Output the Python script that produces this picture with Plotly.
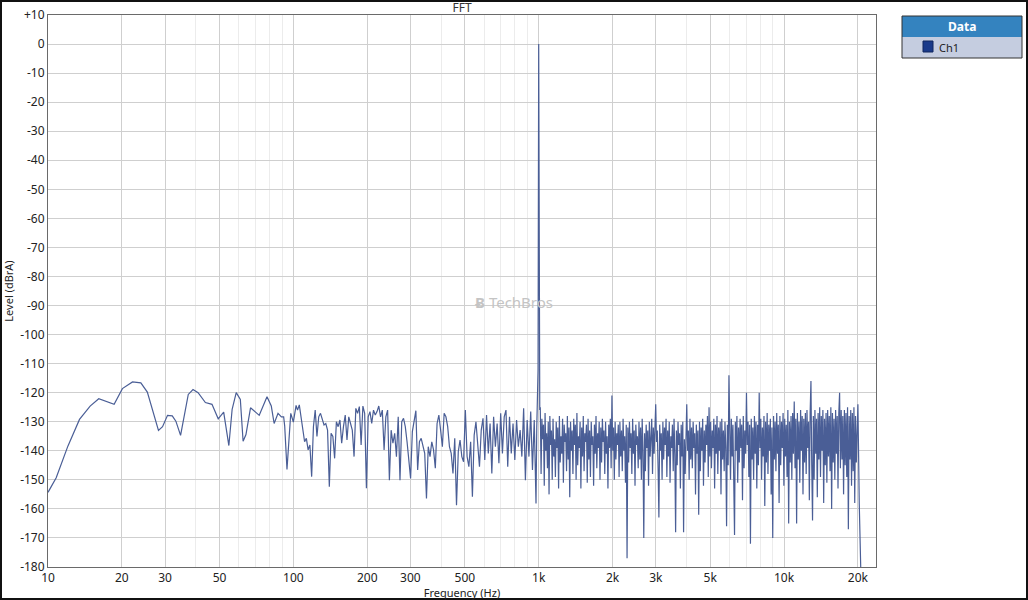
import numpy as np
from plotly import graph_objects as go

# low end of the spectrum, read point by point (Hz, dBrA)
low_freq = [10, 10.8, 12.05, 13.44, 14.85, 16.1, 18.6, 20.1, 22.1, 23.9, 25.4, 28.2, 29.3, 30.7, 32.1,
            33.2, 34.7, 37.3, 39.0, 40.9, 43.8, 46.6, 49.4, 52.0, 54.6, 56.3, 58.5, 60.8, 62.4, 64.1,
            66.9, 69.3, 72.6, 78.1, 81.3, 83.5, 86.6, 89.4, 91.3, 92.2, 94.2, 97.6, 100, 102.6]
low_level = [-154.3, -149.3, -138.4, -129.2, -124.6, -122.1, -124.0, -118.6, -116.3, -116.6, -119.8,
             -133.0, -131.7, -127.8, -128.0, -129.8, -134.7, -120.6, -118.9, -120.0, -123.4, -124.0,
             -129.0, -126.7, -138.2, -125.7, -120.0, -122.3, -136.7, -134.4, -125.2, -126.3, -127.8,
             -121.4, -124.6, -130.6, -127.1, -128.3, -128.3, -131.5, -146.4, -127.1, -130.1, -124.4]

# 104 Hz .. 975 Hz, evenly spaced on the log axis
mid_start, mid_stop = 104, 975
mid_level = [-126.0, -124.2, -128.3, -134.0, -136.9, -135.7, -139.7, -138.0, -148.9, -131.7,
             -126.0, -135.1, -128.3, -127.1, -129.4, -131.1, -130.6, -132.9, -152.4, -134.0,
             -135.1, -142.6, -130.0, -131.7, -129.4, -137.4, -131.7, -127.7, -136.3, -128.3,
             -130.6, -132.9, -142.0, -125.4, -127.1, -124.8, -138.0, -124.6, -127.1, -152.9,
             -128.3, -126.5, -130.6, -126.0, -127.7, -126.5, -124.6, -128.3, -126.0, -139.7,
             -128.3, -126.0, -150.1, -132.9, -137.4, -134.0, -142.0, -128.3, -150.1, -130.0,
             -128.8, -131.7, -136.9, -144.3, -149.5, -133.4, -129.4, -126.2, -146.6, -136.9,
             -135.7, -138.0, -140.9, -156.4, -138.6, -142.0, -136.9, -139.7, -146.0, -130.6,
             -127.7, -132.9, -138.6, -127.1, -128.3, -131.7, -138.6, -140.9, -147.8, -135.7,
             -158.7, -140.3, -136.3, -142.0, -143.8, -126.0, -142.0, -145.5, -136.9, -155.8,
             -134.6, -130.0, -138.6, -145.5, -132.9, -128.8, -143.2, -127.7, -140.9, -130.6,
             -147.8, -128.3, -138.6, -130.6, -144.3, -127.1, -140.9, -128.3, -126.0, -145.5,
             -128.3, -140.9, -130.6, -143.2, -129.4, -138.6, -132.9, -142.0, -125.4, -150.1,
             -129.4, -142.0, -126.5, -146.6, -129.4, -158.1]

# the 1 kHz test tone
tone_freq = [982, 994, 1000, 1006, 1010]
tone_level = [-132, -112, 0, -110, -126]

# 1.015 kHz .. 20 kHz, evenly spaced on the log axis
high_start, high_stop = 1015, 20000
high_level = [
    -125, -148, -129, -136, -131, -152, -127, -140, -134, -146, -130, -155, -128, -138, -133, -150, -129, -142, -136, -149,
    -130, -139, -132, -153, -128, -144, -135, -141, -129, -151, -131, -137, -134, -147, -128, -143, -132, -156, -130, -140,
    -133, -148, -129, -138, -131, -150, -127, -145, -135, -139, -130, -153, -132, -142, -128, -147, -134, -137, -131, -151,
    -129, -143, -133, -149, -130, -138, -135, -152, -131, -141, -128, -146, -134, -139, -130, -150, -132, -144, -129, -137,
    -133, -148, -130, -141, -135, -153, -131, -139, -129, -146, -121, -140, -132, -150, -130, -143, -134, -138, -131, -149,
    -130, -142, -133, -147, -129, -140, -135, -151, -131, -177, -132, -144, -130, -139, -134, -148, -129, -141, -133, -152,
    -131, -138, -135, -146, -130, -143, -132, -150, -129, -140, -170, -134, -147, -131, -139, -133, -152, -130, -142, -135,
    -129, -148, -132, -141, -130, -124, -137, -133, -146, -163, -131, -140, -134, -150, -130, -143, -132, -138, -129, -149,
    -133, -142, -130, -151, -135, -139, -131, -147, -129, -141, -168, -133, -145, -130, -138, -134, -153, -131, -142, -130,
    -168, -136, -148, -131, -124, -140, -133, -150, -129, -143, -132, -146, -130, -139, -134, -155, -131, -141, -133, -162,
    -130, -147, -132, -140, -129, -152, -133, -144, -131, -138, -128, -149, -125, -142, -130, -146, -133, -139, -129, -153,
    -131, -141, -128, -148, -132, -140, -130, -155, -129, -143, -133, -147, -130, -139, -166, -131, -145, -114, -137, -150,
    -129, -142, -131, -148, -169, -130, -140, -128, -151, -132, -144, -129, -139, -131, -157, -128, -146, -133, -141, -120,
    -138, -130, -149, -131, -172, -129, -143, -132, -150, -128, -141, -130, -153, -131, -145, -120, -139, -129, -150, -132,
    -142, -128, -159, -130, -144, -127, -148, -131, -140, -129, -155, -132, -170, -128, -143, -130, -147, -127, -141, -131,
    -158, -128, -145, -130, -139, -127, -152, -129, -142, -131, -149, -126, -165, -130, -144, -128, -150, -127, -141, -123,
    -146, -129, -165, -127, -143, -130, -151, -126, -140, -128, -155, -129, -144, -127, -148, -126, -139, -130, -157, -127,
    -116, -145, -164, -128, -150, -126, -141, -129, -156, -127, -143, -125, -149, -128, -140, -126, -158, -129, -145, -127,
    -151, -126, -142, -128, -147, -125, -160, -127, -144, -129, -150, -126, -141, -128, -153, -127, -120, -146, -126, -143,
    -128, -155, -126, -145, -127, -149, -125, -167, -128, -143, -126, -152, -127, -147, -125, -158, -128, -144, -126, -124,
]

# roll-off past 20 kHz
tail_freq = [20250, 20600]
tail_level = [-158, -185]

x_tickvals = [10, 20, 30, 50, 100, 200, 300, 500, 1000, 2000, 3000, 5000, 10000, 20000]
x_ticktext = ['10', '20', '30', '50', '100', '200', '300', '500', '1k', '2k', '3k', '5k', '10k', '20k']
x_minor = [40, 60, 70, 80, 90, 400, 600, 700, 800, 900, 4000, 6000, 7000, 8000, 9000]
y_tickvals = list(range(10, -181, -10))
y_ticktext = ['+10'] + [str(v) for v in y_tickvals[1:]]

freq = (low_freq + list(np.geomspace(mid_start, mid_stop, len(mid_level))) + tone_freq
        + list(np.geomspace(high_start, high_stop, len(high_level))) + tail_freq)
level = low_level + mid_level + tone_level + high_level + tail_level

W, H = 1028, 600
L, R, T, B = 48, 876, 15, 567


def px(x, y):
    # figure pixel -> paper coords of the plot area
    return (x - L) / (R - L), (B - y) / (B - T)


fig = go.Figure()
fig.add_trace(go.Scatter(x=freq, y=level, mode='lines', name='Ch1',
                         line=dict(color='#4a5e96', width=1.2), showlegend=False))

font = dict(family='Noto Sans, Open Sans, sans-serif', size=12, color='#222222')
fig.update_layout(
    width=W, height=H, margin=dict(l=L, r=W - R, t=T, b=H - B),
    paper_bgcolor='white', plot_bgcolor='white', font=font,
    title=dict(text='FFT', x=(L + R) / 2 / W, xanchor='center', y=1 - 8 / H, yanchor='middle',
               font=dict(size=12, color='#333333')),
)
fig.update_xaxes(type='log', range=[1, np.log10(23700)], tickvals=x_tickvals, ticktext=x_ticktext,
                 showgrid=True, gridcolor='#cfcfcf', gridwidth=1, zeroline=False, automargin=False,
                 minor=dict(tickvals=x_minor, showgrid=True, gridcolor='#ececec', ticks=''),
                 showline=True, linecolor='#6a6a6a', mirror=True, ticks='', ticklen=0,
                 title=dict(text='Frequency (Hz)', font=dict(size=11, color='#222222'), standoff=0))
fig.update_yaxes(range=[-180, 10], tickvals=y_tickvals, ticktext=y_ticktext, automargin=False,
                 showgrid=True, gridcolor='#cfcfcf', zeroline=False,
                 showline=True, linecolor='#6a6a6a', mirror=True, ticks='',
                 title=dict(text='Level (dBrA)', font=dict(size=11, color='#222222'), standoff=4))

# legend box drawn by hand: blue header "Data" and one row for Ch1
x0, y0 = px(902, 16)
x1, y1 = px(1022, 37)
_, y2 = px(0, 58)
fig.add_shape(type='rect', xref='paper', yref='paper', x0=x0, x1=x1, y0=y1, y1=y0,
              fillcolor='#3483bf', line=dict(width=0))
fig.add_shape(type='rect', xref='paper', yref='paper', x0=x0, x1=x1, y0=y2, y1=y1,
              fillcolor='#c5cde0', line=dict(width=0))
fig.add_shape(type='rect', xref='paper', yref='paper', x0=x0, x1=x1, y0=y2, y1=y0,
              line=dict(color='#333333', width=1))
sx0, sy0 = px(923, 41)
sx1, sy1 = px(933, 52)
fig.add_shape(type='rect', xref='paper', yref='paper', x0=sx0, x1=sx1, y0=sy1, y1=sy0,
              fillcolor='#1a3a8a', line=dict(color='#10265e', width=1))
hx, hy = px(962, 27)
fig.add_annotation(xref='paper', yref='paper', x=hx, y=hy, text='<b>Data</b>', showarrow=False,
                   xanchor='center', yanchor='middle', font=dict(size=12, color='white'))
cx, cy = px(937, 47)
fig.add_annotation(xref='paper', yref='paper', x=cx, y=cy, text='Ch1', showarrow=False,
                   xanchor='left', yanchor='middle', font=dict(size=11, color='#222222'))

# watermark
wx, wy = px(514, 302)
fig.add_annotation(xref='paper', yref='paper', x=wx, y=wy, text='<b>Ƀ</b> TechBros', showarrow=False,
                   xanchor='center', yanchor='middle', font=dict(size=15, color='#c4c4c4'))

# outer frame of the picture
fx0, fy0 = px(1, 1)
fx1, fy1 = px(W - 1, H - 1)
fig.add_shape(type='rect', xref='paper', yref='paper', x0=fx0, x1=fx1, y0=fy1, y1=fy0,
              line=dict(color='#111111', width=2))

# the page has a default 8px body margin, drop it so the figure sits at 0,0
fig.write_html("out.html", config={'displayModeBar': False},
               post_script="document.body.style.margin='0';document.body.style.overflow='hidden';")
